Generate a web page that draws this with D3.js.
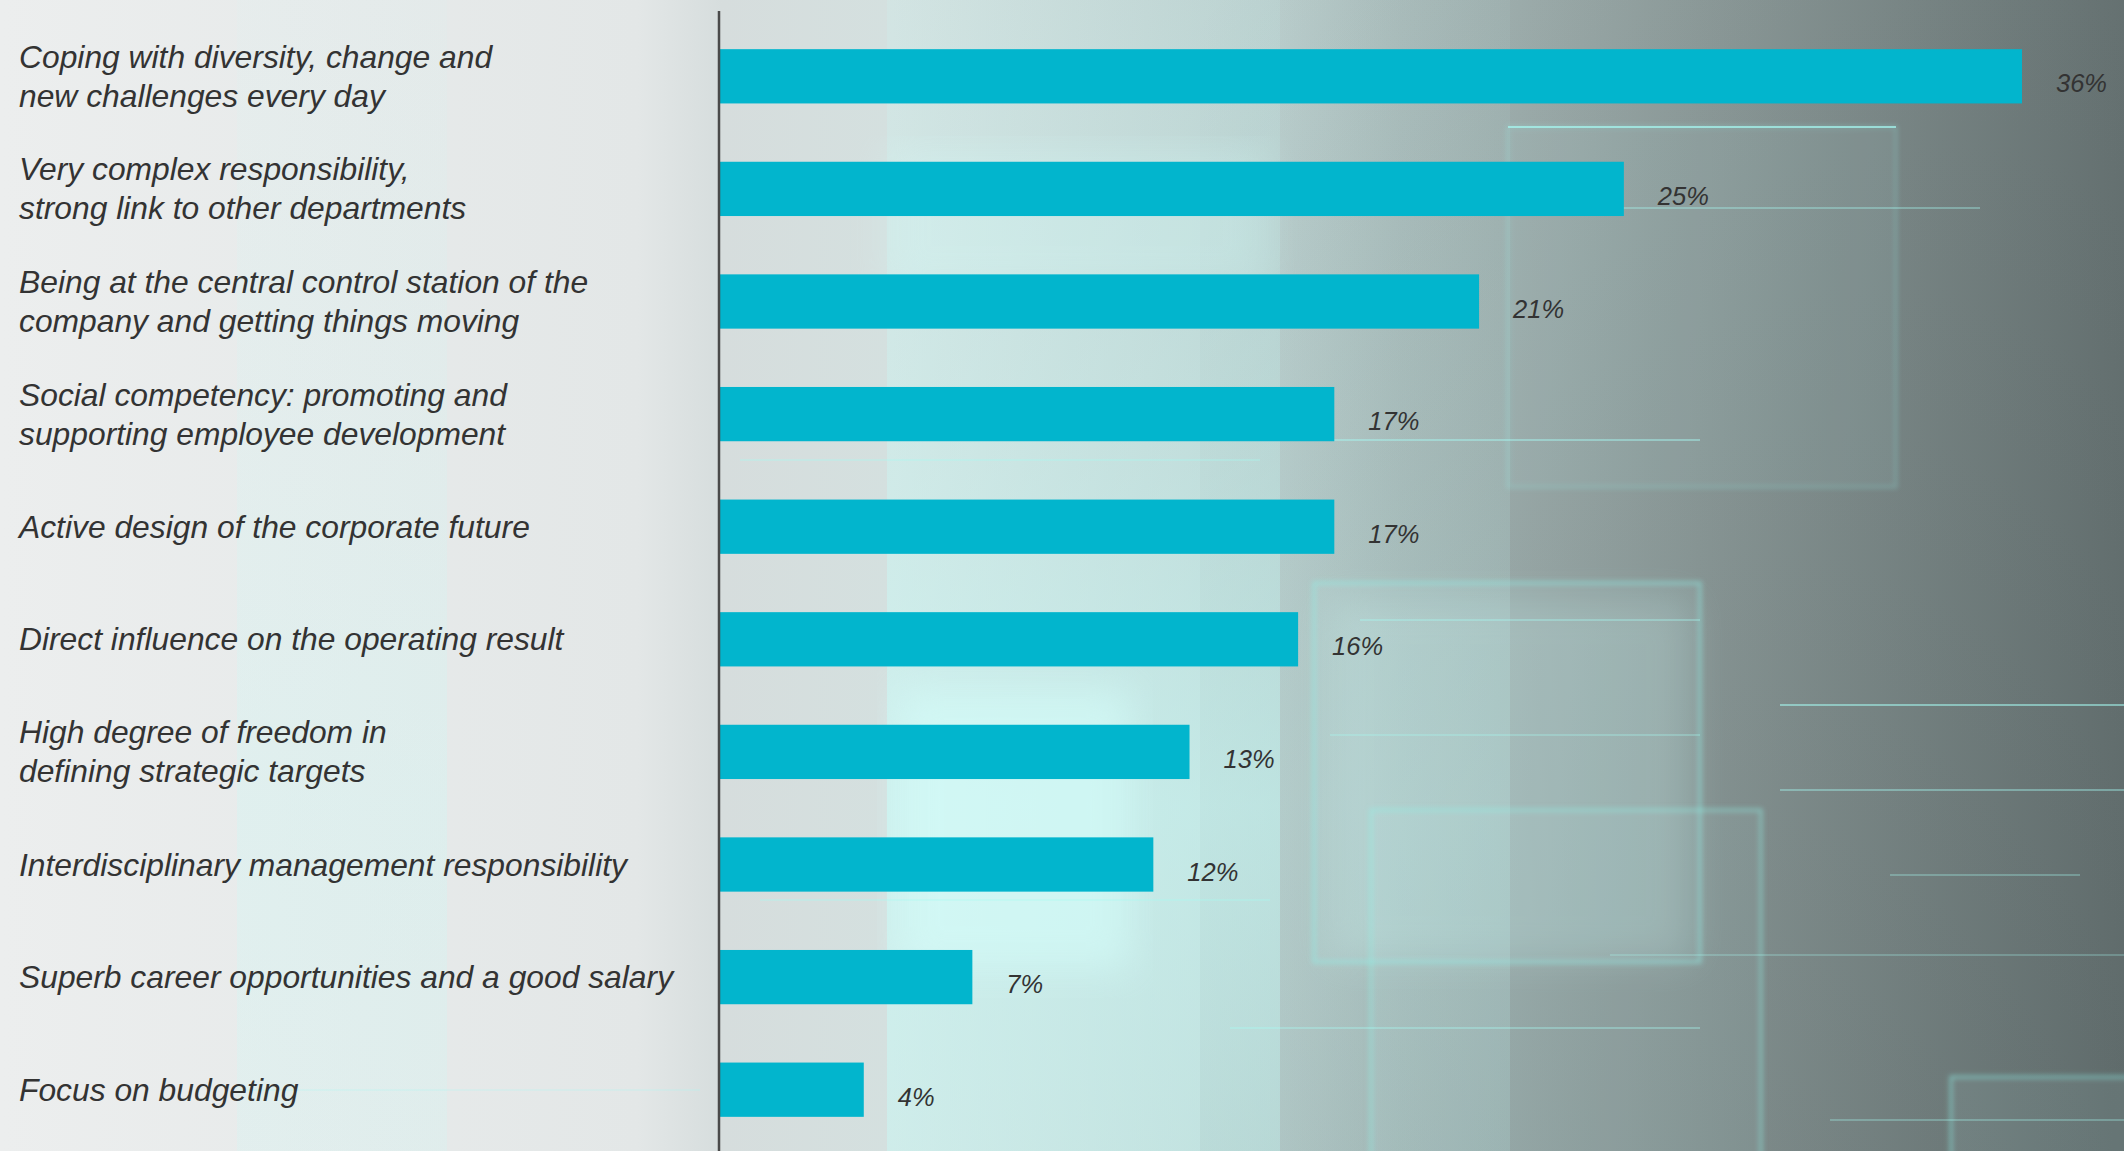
<!DOCTYPE html>
<html>
<head>
<meta charset="utf-8">
<script src="https://cdn.jsdelivr.net/npm/d3@7"></script>
<style>
  body { margin: 0; overflow: hidden; background: #e6e9e9; }
  svg { display: block; }
</style>
</head>
<body>
<div id="chart"></div>
<script>
// category labels (line breaks as in the original), top to bottom
var categories = [
    ["Coping with diversity, change and", "new challenges every day"],
    ["Very complex responsibility,", "strong link to other departments"],
    ["Being at the central control station of the", "company and getting things moving"],
    ["Social competency: promoting and", "supporting employee development"],
    ["Active design of the corporate future"],
    ["Direct influence on the operating result"],
    ["High degree of freedom in", "defining strategic targets"],
    ["Interdisciplinary management responsibility"],
    ["Superb career opportunities and a good salary"],
    ["Focus on budgeting"]
];
var values = [36, 25, 21, 17, 17, 16, 13, 12, 7, 4];

var width = 2124, height = 1151;
var margin = { top: 20, left: 719 };

var svg = d3.select("#chart")
    .append("svg")
    .attr("width", width)
    .attr("height", height);

var defs = svg.append("defs");

// background gradient: light grey on the left to dark teal grey on the right
var bgGrad = defs.append("linearGradient").attr("id", "bg")
    .attr("x1", "0%").attr("x2", "100%").attr("y1", "0%").attr("y2", "0%");
[[0, "#eceeee"], [0.3, "#e3e7e7"], [0.34, "#d6dddd"], [0.42, "#d4e0df"],
 [0.6, "#b9cbca"], [0.66, "#a9bab9"], [0.8, "#909e9d"], [1, "#6b7777"]]
    .forEach(function (s) {
        bgGrad.append("stop").attr("offset", s[0]).attr("stop-color", s[1]);
    });

var bandGrad = defs.append("linearGradient").attr("id", "band")
    .attr("x1", "0%").attr("x2", "0%").attr("y1", "0%").attr("y2", "100%");
[[0, 0.15], [0.4, 0.35], [0.7, 0.6], [1, 0.45]].forEach(function (s) {
    bandGrad.append("stop").attr("offset", s[0])
        .attr("stop-color", "#c8fbf7").attr("stop-opacity", s[1]);
});

var darkGrad = defs.append("linearGradient").attr("id", "dark")
    .attr("x1", "0%").attr("x2", "100%").attr("y1", "0%").attr("y2", "100%");
[[0, 0], [1, 0.2]].forEach(function (s) {
    darkGrad.append("stop").attr("offset", s[0])
        .attr("stop-color", "#2f3b3b").attr("stop-opacity", s[1]);
});

defs.append("filter").attr("id", "glow")
    .append("feGaussianBlur").attr("stdDeviation", 2.5);
defs.append("filter").attr("id", "soft")
    .append("feGaussianBlur").attr("stdDeviation", 18);

var bg = svg.append("g").attr("class", "background");
bg.append("rect").attr("width", width).attr("height", height).attr("fill", "url(#bg)");
bg.append("rect").attr("x", 1200).attr("width", 924).attr("height", height).attr("fill", "url(#dark)");

// cyan light columns
var columns = [
    [887, 393, "url(#band)", 1],
    [237, 210, "url(#band)", 0.45],
    [1280, 230, "url(#band)", 0.35]
];
bg.selectAll("rect.col").data(columns).enter().append("rect")
    .attr("class", "col")
    .attr("x", function (d) { return d[0]; })
    .attr("width", function (d) { return d[1]; })
    .attr("y", 0).attr("height", height)
    .attr("fill", function (d) { return d[2]; })
    .attr("opacity", function (d) { return d[3]; });

// soft bright patches
var patches = [
    [900, 690, 230, 280, 0.55],
    [887, 150, 380, 140, 0.25],
    [1330, 600, 360, 360, 0.2]
];
bg.selectAll("rect.patch").data(patches).enter().append("rect")
    .attr("class", "patch")
    .attr("x", function (d) { return d[0]; })
    .attr("y", function (d) { return d[1]; })
    .attr("width", function (d) { return d[2]; })
    .attr("height", function (d) { return d[3]; })
    .attr("fill", "#d6fffc")
    .attr("opacity", function (d) { return d[4]; })
    .attr("filter", "url(#soft)");

// glowing outlined boxes
var boxes = [
    [1314, 583, 386, 379, 0.55],
    [1371, 810, 390, 380, 0.5],
    [1951, 1077, 200, 100, 0.55],
    [1508, 127, 388, 360, 0.25]
];
bg.selectAll("rect.box").data(boxes).enter().append("rect")
    .attr("class", "box")
    .attr("x", function (d) { return d[0]; })
    .attr("y", function (d) { return d[1]; })
    .attr("width", function (d) { return d[2]; })
    .attr("height", function (d) { return d[3]; })
    .attr("fill", "#b8f3ee").attr("fill-opacity", 0.07)
    .attr("stroke", "#8ff3ea")
    .attr("stroke-opacity", function (d) { return d[4]; })
    .attr("stroke-width", 3)
    .attr("filter", "url(#glow)");

// faint horizontal streaks
var streaks = [
    [1508, 1896, 127, 0.7], [1620, 1980, 208, 0.35], [1330, 1700, 440, 0.45],
    [1780, 2124, 705, 0.55], [1780, 2124, 790, 0.4], [1890, 2080, 875, 0.3],
    [1330, 1700, 735, 0.3], [1360, 1700, 620, 0.35], [740, 1260, 460, 0.3],
    [760, 1270, 900, 0.3], [1230, 1700, 1028, 0.35], [240, 700, 1090, 0.2],
    [1610, 2124, 955, 0.25], [1830, 2124, 1120, 0.3]
];
bg.selectAll("line.streak").data(streaks).enter().append("line")
    .attr("class", "streak")
    .attr("x1", function (d) { return d[0]; })
    .attr("x2", function (d) { return d[1]; })
    .attr("y1", function (d) { return d[2]; })
    .attr("y2", function (d) { return d[2]; })
    .attr("stroke", "#a6fbf3")
    .attr("stroke-opacity", function (d) { return d[3]; })
    .attr("stroke-width", 2);

// scales
var x = d3.scaleLinear().domain([0, 36]).range([margin.left, 2022]);
var y = d3.scaleBand()
    .domain(d3.range(categories.length))
    .range([margin.top, margin.top + 112.6 * categories.length])
    .paddingInner(0.518)
    .paddingOuter(0.259);

var chart = svg.append("g");

// bars
chart.selectAll("rect.bar").data(values).enter().append("rect")
    .attr("class", "bar")
    .attr("x", x(0))
    .attr("y", function (d, i) { return y(i); })
    .attr("width", function (d) { return x(d) - x(0); })
    .attr("height", y.bandwidth())
    .attr("fill", "#02b5cd");

// value labels
chart.selectAll("text.value").data(values).enter().append("text")
    .attr("class", "value")
    .attr("x", function (d) { return x(d) + 34; })
    .attr("y", function (d, i) { return y(i) + y.bandwidth() / 2 + 16; })
    .style("font-family", "'Liberation Sans', Arial, sans-serif")
    .style("font-style", "italic")
    .style("font-size", "25.5px")
    .style("fill", "#333")
    .text(function (d) { return d + "%"; });

// category labels
var lineH = 39;
var labels = chart.selectAll("text.cat").data(categories).enter().append("text")
    .attr("class", "cat")
    .attr("x", 19)
    .attr("y", function (d, i) {
        return y(i) + y.bandwidth() / 2 + 11 - (d.length - 1) * lineH / 2;
    })
    .style("font-family", "'Liberation Sans', Arial, sans-serif")
    .style("font-style", "italic")
    .style("font-size", "31.8px")
    .style("fill", "#333");
labels.selectAll("tspan").data(function (d) { return d; }).enter().append("tspan")
    .attr("x", 19)
    .attr("dy", function (d, i) { return i === 0 ? 0 : lineH; })
    .text(function (d) { return d; });

// vertical axis line
svg.append("line")
    .attr("x1", x(0)).attr("x2", x(0))
    .attr("y1", 11).attr("y2", height)
    .attr("stroke", "#4a4a4a")
    .attr("stroke-width", 2.5);
</script>
</body>
</html>
